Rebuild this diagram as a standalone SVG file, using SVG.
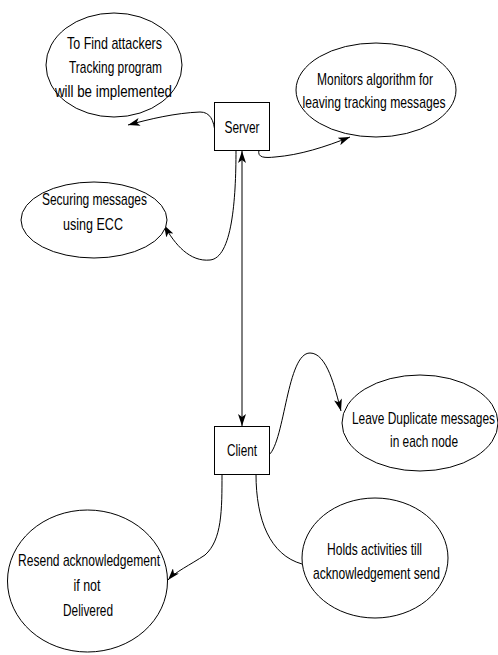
<svg xmlns="http://www.w3.org/2000/svg" width="498" height="655" viewBox="0 0 498 655">
<defs>
<style>
.n{fill:#fff;stroke:#000;stroke-width:1}
.t{font-family:"Liberation Sans Narrow","Liberation Sans",Arial,sans-serif;font-size:17px;fill:#000;text-anchor:middle}
.c{fill:none;stroke:#000;stroke-width:1}
</style>
<marker id="ah" viewBox="0 0 12 8" refX="12" refY="4" markerWidth="12" markerHeight="8" markerUnits="userSpaceOnUse" orient="auto-start-reverse">
<path d="M0,0 L12,4 L0,8 L3,4 z" fill="#000"/>
</marker>
</defs>
<rect width="498" height="655" fill="#fff"/>
<g id="connectors">
<path class="c" d="M215,133 C214,120 210,112 200,112 C175,113 150,119 128,125" marker-end="url(#ah)"/>
<path class="c" d="M259,150 C257,158 265,158 275,157 C300,155 325,147 350,137" marker-end="url(#ah)"/>
<path class="c" d="M236,150 C236,200 232,258 210,260 C190,262 175,245 164,225" marker-end="url(#ah)"/>
<path class="c" d="M242,151 L242,426" marker-start="url(#ah)" marker-end="url(#ah)"/>
<path class="c" d="M269,455 C285,440 287,353 310,353 C327,353 335,388 341,411" marker-end="url(#ah)"/>
<path class="c" d="M222,474 C222,510 222,540 205,555 C190,565 175,572 168,580" marker-end="url(#ah)"/>
<path class="c" d="M256,474 C256,520 270,555 302,564"/>
</g>
<g id="server">
<rect class="n" x="214.5" y="102.5" width="55" height="48"/>
<text class="t" x="242" y="133" textLength="35" lengthAdjust="spacingAndGlyphs">Server</text>
</g>
<g id="client">
<rect class="n" x="214.5" y="426.5" width="55" height="48"/>
<text class="t" x="242" y="456" textLength="30" lengthAdjust="spacingAndGlyphs">Client</text>
</g>
<g id="tracking">
<ellipse class="n" cx="114" cy="65" rx="68" ry="52"/>
<text class="t" x="114.5" y="49" textLength="95" lengthAdjust="spacingAndGlyphs">To Find attackers</text>
<text class="t" x="115.5" y="73" textLength="93" lengthAdjust="spacingAndGlyphs">Tracking program</text>
<text class="t" x="113.5" y="97" textLength="117" lengthAdjust="spacingAndGlyphs">will be implemented</text>
</g>
<g id="monitors">
<ellipse class="n" cx="376" cy="90" rx="80" ry="47"/>
<text class="t" x="375" y="85" textLength="116" lengthAdjust="spacingAndGlyphs">Monitors algorithm for</text>
<text class="t" x="374" y="108" textLength="143" lengthAdjust="spacingAndGlyphs">leaving tracking messages</text>
</g>
<g id="securing">
<ellipse class="n" cx="94" cy="220" rx="73" ry="38"/>
<text class="t" x="94.5" y="205" textLength="105" lengthAdjust="spacingAndGlyphs">Securing messages</text>
<text class="t" x="93" y="230" textLength="60" lengthAdjust="spacingAndGlyphs">using ECC</text>
</g>
<g id="duplicate">
<ellipse class="n" cx="420" cy="423" rx="78" ry="48"/>
<text class="t" x="423.5" y="424" textLength="143" lengthAdjust="spacingAndGlyphs">Leave Duplicate messages</text>
<text class="t" x="424" y="447" textLength="68" lengthAdjust="spacingAndGlyphs">in each node</text>
</g>
<g id="holds">
<ellipse class="n" cx="375" cy="558" rx="73" ry="60"/>
<text class="t" x="374.5" y="555" textLength="95" lengthAdjust="spacingAndGlyphs">Holds activities till</text>
<text class="t" x="376.5" y="579" textLength="127" lengthAdjust="spacingAndGlyphs">acknowledgement send</text>
</g>
<g id="resend">
<ellipse class="n" cx="87.5" cy="581" rx="80" ry="71"/>
<text class="t" x="89" y="566" textLength="142" lengthAdjust="spacingAndGlyphs">Resend acknowledgement</text>
<text class="t" x="87" y="591" textLength="27" lengthAdjust="spacingAndGlyphs">if not</text>
<text class="t" x="88" y="616" textLength="50" lengthAdjust="spacingAndGlyphs">Delivered</text>
</g>
</svg>
